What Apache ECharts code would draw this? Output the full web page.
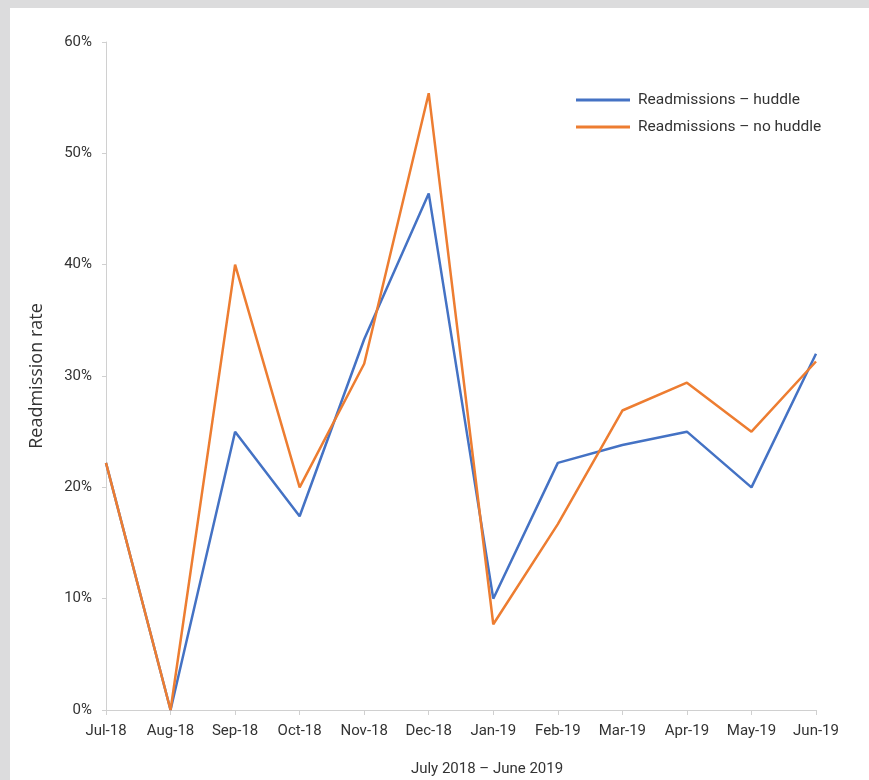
<!DOCTYPE html>
<html>
<head>
<meta charset="utf-8">
<title>Readmission rate</title>
<script src="https://cdn.jsdelivr.net/npm/echarts@6/dist/echarts.min.js"></script>
<style>
  html, body { margin: 0; padding: 0; background: #dcdcdd; }
  #chart { position: absolute; left: 10px; top: 8px; width: 859px; height: 772px; background: #ffffff; }
</style>
</head>
<body>
<div id="chart"></div>
<script>
  // 月份
  const months = ['Jul-18', 'Aug-18', 'Sep-18', 'Oct-18', 'Nov-18', 'Dec-18',
                  'Jan-19', 'Feb-19', 'Mar-19', 'Apr-19', 'May-19', 'Jun-19'];
  // 再入院率 (%)
  const huddle = [22.2, 0, 25, 17.4, 33.3, 46.4, 10, 22.2, 23.8, 25, 20, 32];
  const noHuddle = [22.2, 0, 40, 20, 31.1, 55.4, 7.7, 16.7, 26.9, 29.4, 25, 31.3];
  const seriesNames = ['Readmissions – huddle', 'Readmissions – no huddle'];

  const font = 'Roboto, "Liberation Sans", sans-serif';
  const chart = echarts.init(document.getElementById('chart'));

  const option = {
    animation: false,
    grid: { left: 96, right: 53, top: 34, bottom: 70 },
    legend: {
      orient: 'vertical',
      left: 561,
      top: 78,
      icon: 'rect',
      itemWidth: 54,
      itemHeight: 3,
      itemGap: 9,
      textStyle: { fontFamily: font, fontSize: 15.5, color: '#333', lineHeight: 18, padding: [0, 0, 0, 3] },
      data: seriesNames
    },
    xAxis: {
      type: 'category',
      data: months,
      boundaryGap: false,
      axisLine: { lineStyle: { color: '#d0d0d0', width: 1 } },
      axisTick: { show: true, length: 5, alignWithLabel: true, lineStyle: { color: '#d0d0d0' } },
      axisLabel: { fontFamily: font, fontSize: 15, color: '#333', margin: 14 }
    },
    yAxis: {
      type: 'value',
      min: 0,
      max: 60,
      interval: 10,
      name: 'Readmission rate',
      nameLocation: 'middle',
      nameGap: 60,
      nameTextStyle: { fontFamily: '"Open Sans", sans-serif', fontSize: 18, color: '#333' },
      axisLine: { show: true, lineStyle: { color: '#d0d0d0', width: 1 } },
      axisTick: { show: true, length: 4, lineStyle: { color: '#d0d0d0' } },
      splitLine: { show: false },
      axisLabel: { fontFamily: font, fontSize: 15, color: '#333', margin: 14, formatter: '{value}%' }
    },
    graphic: [{
      type: 'text',
      x: 477,
      y: 761,
      style: {
        text: 'July 2018 – June 2019',
        textAlign: 'center',
        textVerticalAlign: 'middle',
        font: '15px ' + font,
        fill: '#333'
      }
    }],
    series: [
      {
        name: seriesNames[0],
        type: 'line',
        data: huddle,
        symbol: 'none',
        lineStyle: { color: '#4472c4', width: 2.5 },
        itemStyle: { color: '#4472c4' }
      },
      {
        name: seriesNames[1],
        type: 'line',
        data: noHuddle,
        symbol: 'none',
        lineStyle: { color: '#ed7d31', width: 2.5 },
        itemStyle: { color: '#ed7d31' }
      }
    ]
  };

  chart.setOption(option);
</script>
</body>
</html>
